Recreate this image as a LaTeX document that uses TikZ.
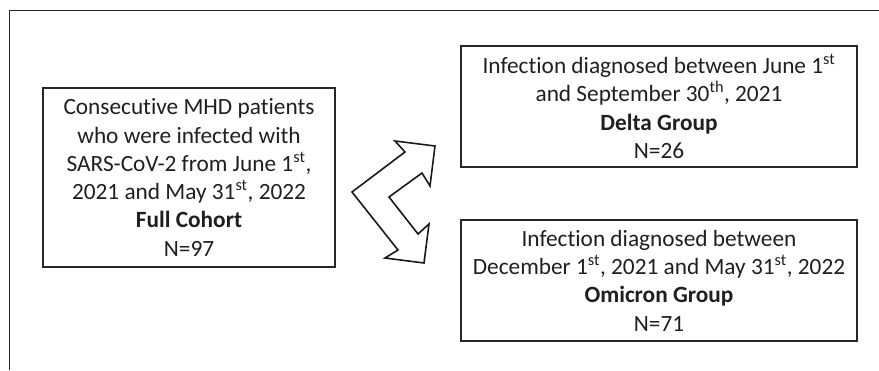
\documentclass[tikz,border=0pt]{standalone}
\usepackage{fontspec}
\setmainfont[Ligatures=NoCommon]{Carlito}
\usetikzlibrary{positioning}

\begin{document}
\begin{tikzpicture}[x=1pt,y=-1pt]
	\path [use as bounding box] (0,0) rectangle (879,370);
	\tikzstyle{every node} = [draw=black!85, line width=2pt, align=center, inner sep=0pt, font=\fontsize{23.3}{28.3}\selectfont, text=black!88]
	\tikzstyle{groupbox} = [minimum width=396pt, minimum height=121pt]
	% outer frame (top and left only)
	\draw[line width=1pt, black!85] (9.5,370) -- (9.5,10.5) -- (879,10.5);
	\node[minimum width=292pt, minimum height=179pt] (full) at (189,177.5) {Consecutive MHD patients\\who were infected with\\SARS-CoV-2 from June 1\textsuperscript{st},\\2021 and May 31\textsuperscript{st}, 2022\\\textbf{Full Cohort}\\N=97};
	\node[groupbox] (delta) at (659,106.5) {Infection diagnosed between June 1\textsuperscript{st}\\and September 30\textsuperscript{th}, 2021\\\textbf{Delta Group}\\N=26};
	\node[groupbox, below=51pt of delta] (omicron) {Infection diagnosed between\\December 1\textsuperscript{st}, 2021 and May 31\textsuperscript{st}, 2022\\\textbf{Omicron Group}\\N=71};
	% split arrow
	\draw[line width=1.6pt, black!90, line join=miter] (352,192) -- (405,152) -- (395,141) -- (435,146) -- (430,186) -- (422,173) -- (389,197) -- (418,234) -- (429,224) -- (424,263) -- (385,258) -- (398,250) -- cycle;
\end{tikzpicture}
\end{document}
